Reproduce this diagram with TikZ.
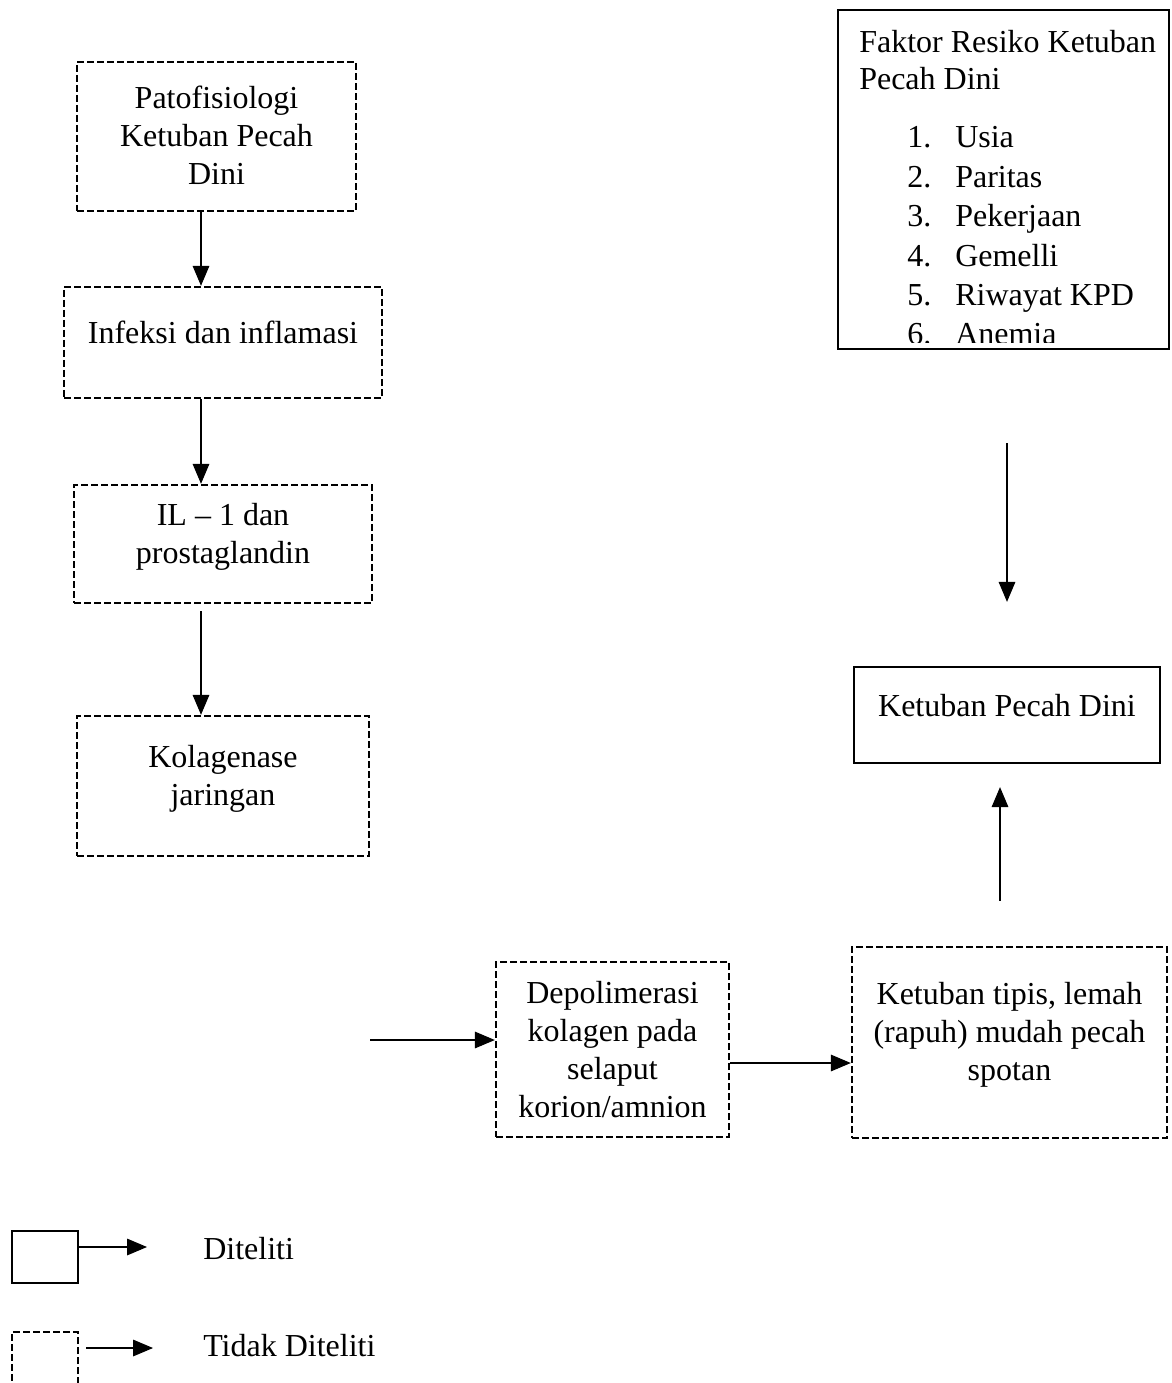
\documentclass[tikz,border=0pt]{standalone}
\usepackage{fontspec}
\setmainfont{Liberation Serif}
\usetikzlibrary{arrows.meta,calc}

\begin{document}
\begin{tikzpicture}[x=0.75pt,y=0.75pt,yscale=-1,xscale=1,
  font=\fontsize{24pt}{28.5pt}\selectfont,
  sz/.style 2 args={minimum width=#1*0.75pt,minimum height=#2*0.75pt},
  dbox/.style={draw,line width=1.8pt,dash pattern=on 5pt off 2.5pt,inner sep=0pt},
  sbox/.style={draw,line width=1.7pt,inner sep=0pt},
  txt/.style={align=center,inner sep=0pt},
  arr/.style={-{Triangle[length=15pt,width=12.5pt]},line width=0.8pt}]
\useasboundingbox (0,0) rectangle (1171,1383);

%Shape: Rectangle
\node[dbox,sz={279}{149}] (pato) at (216.5,136.5) {};
%Shape: Rectangle
\node[dbox,sz={318}{111}] (infl) at (223,342.5) {};
%Shape: Rectangle
\node[dbox,sz={298}{118}] (ilp) at (223,544) {};
%Shape: Rectangle
\node[dbox,sz={292}{140}] (kola) at (223,786) {};
%Shape: Rectangle
\node[dbox,sz={233}{175}] (depo) at (612.5,1049.5) {};
%Shape: Rectangle
\node[dbox,sz={315}{191}] (tipis) at (1009.5,1042.5) {};
%Shape: Rectangle
\node[sbox,sz={306}{96}] (kpd) at (1007,715) {};
%Shape: Rectangle
\node[sbox,sz={331}{339}] (faktor) at (1003.5,179.5) {};
%Shape: Rectangle
\node[sbox,sz={66}{52}] (lsolid) at (45,1257) {};
%Shape: Rectangle
\node[dbox,sz={66}{56}] (ldash) at (45,1360) {};

% Text Node
\node[txt] (patoT) at ($(pato)+(0,-1.5)$) {Patofisiologi\\Ketuban Pecah\\Dini};
% Text Node
\node[txt] (inflT) at ($(infl)+(0,-10.5)$) {Infeksi dan inflamasi};
% Text Node
\node[txt] (ilpT) at ($(ilp)+(0,-7.5)$) {IL – 1 dan\\prostaglandin};
% Text Node
\node[txt] (kolaT) at ($(kola)+(0,-7.5)$) {Kolagenase\\jaringan};
% Text Node
\node[txt] (depoT) at (depo) {Depolimerasi\\kolagen pada\\selaput\\korion/amnion};
% Text Node
\node[txt] (tipisT) at ($(tipis)+(0,-7.5)$) {Ketuban tipis, lemah\\(rapuh) mudah pecah\\spotan};
% Text Node
\node[txt] (kpdT) at ($(kpd)+(0,-9)$) {Ketuban Pecah Dini};
% Text Node
\node[anchor=base west,inner sep=0pt] (faktorA) at (859,53) {Faktor Resiko Ketuban};
\node[anchor=base west,inner sep=0pt] (faktorB) at (859,90) {Pecah Dini};
\begin{scope}
\clip ($(faktor.south west)+(0,-8)$) rectangle (faktor.north east);
\foreach \fk [count=\i] in {Usia,Paritas,Pekerjaan,Gemelli,Riwayat KPD,Anemia}{
  \node[anchor=base west,inner sep=0pt] (num\i) at (907,108.5+39.4*\i) {\i.};
  \node[anchor=base west,inner sep=0pt] (fk\i) at (955,108.5+39.4*\i) {\fk};
}
\end{scope}
% Text Node
\node[anchor=west,inner sep=0pt] (lblA) at (203,1248.5) {Diteliti};
% Text Node
\node[anchor=west,inner sep=0pt] (lblB) at (203,1346) {Tidak Diteliti};

%Straight Lines
\coordinate (colx) at (201,0);
\draw[arr] (pato.south -| colx) -- (infl.north -| colx);
\draw[arr] (infl.south -| colx) -- (ilp.north -| colx);
\draw[arr,shorten <=5.25pt] (ilp.south -| colx) -- (kola.north -| colx);
%Straight Lines
\coordinate (kolin) at (370,1040);
\draw[arr] (kolin) -- (depo.west |- kolin);
\coordinate (rowd) at (0,1063);
\draw[arr] (depo.east |- rowd) -- (tipis.west |- rowd);
%Straight Lines
\coordinate (rcol) at (1007,0);
\draw[arr,shorten <=69.75pt,shorten >=48pt] (faktor.south -| rcol) -- (kpd.north -| rcol);
\coordinate (rcolb) at (1000,0);
\draw[arr,shorten <=33.75pt,shorten >=17.25pt] (tipis.north -| rcolb) -- (kpd.south -| rcolb);
%Straight Lines
\coordinate (ltipA) at (147,1247);
\draw[arr] (lsolid.east |- ltipA) -- (ltipA);
\coordinate (ltipB) at (153,1348);
\draw[arr,shorten <=5.25pt] (ldash.east |- ltipB) -- (ltipB);

\end{tikzpicture}
\end{document}
